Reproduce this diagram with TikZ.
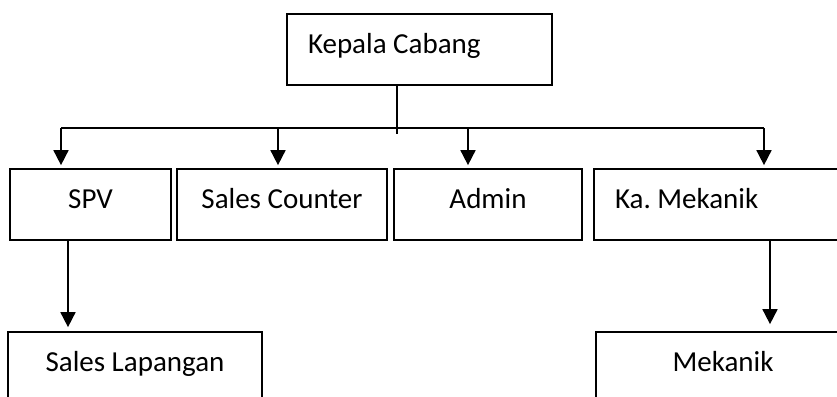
\documentclass[tikz,border=0pt]{standalone}
\usepackage{fontspec}
\setmainfont{Carlito}
\usepackage{tikz}
\usetikzlibrary{shapes,positioning,arrows.meta}

\begin{document}
\begin{tikzpicture}[
        x=1pt, y=-1pt,
        unit/.style={rectangle, draw=black, line width=1.7pt, inner sep=0pt, text height=39pt, text depth=32pt, font=\fontsize{29}{35}\selectfont\frenchspacing},
        lunit/.style={unit, align=flush left, inner xsep=21pt},
        link/.style={line width=1.7pt},
        down/.style={link, -{Triangle[length=15pt, width=15pt]}}
    ]

    \path[use as bounding box, clip] (0,0) rectangle (837,396);

    \node[lunit, text width=223pt] (kc) at (419.5,49.5) {Kepala Cabang};

    \node[unit, minimum width=161pt] (spv) at (90.5,204.5) {SPV};
    \node[unit, minimum width=210pt] (sc) at (282,204.5) {Sales Counter};
    \node[unit, minimum width=188pt] (adm) at (488,204.5) {Admin};
    \node[lunit, text width=216pt] (kam) at (723,204.5) {Ka. Mekanik};

    \node[unit, minimum width=254pt] (sl) at (135,367.5) {Sales Lapangan};
    \node[unit, minimum width=254pt] (mek) at (723,367.5) {Mekanik};

    \draw[link] ([xshift=-22.5pt]kc.south) -- ++(0,48);

    \foreach \n/\x in {spv/61, sc/278, adm/468, kam/764} {
        \coordinate (top-\n) at (\x,128);
        \draw[down, shorten >=3pt] (top-\n) -- (top-\n |- \n.north);
    }
    \draw[link] (top-spv) -- (top-kam);

    \draw[down, shorten >=4pt] ([xshift=-22.5pt]spv.south) -- ([xshift=-67pt]sl.north);
    \draw[down, shorten >=7pt] ([xshift=47pt]kam.south) -- ([xshift=47pt]mek.north);

\end{tikzpicture}
\end{document}
